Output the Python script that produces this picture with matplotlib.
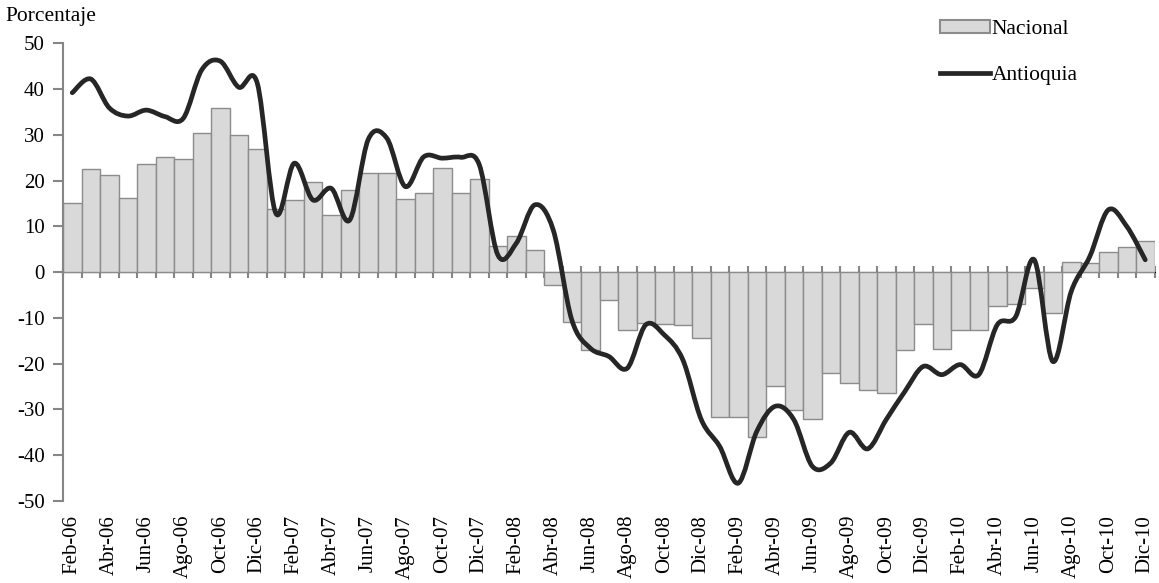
import numpy as np
import matplotlib
matplotlib.use("Agg")
import matplotlib.pyplot as plt
from matplotlib.path import Path
from matplotlib.patches import PathPatch
from matplotlib.lines import Line2D
from matplotlib.patches import Patch

# --- Data (monthly, Feb-06 .. Dic-10) ---
meses = ["Ene", "Feb", "Mar", "Abr", "May", "Jun", "Jul", "Ago", "Sep", "Oct", "Nov", "Dic"]
etiquetas = [f"{meses[(m - 1) % 12]}-{6 + (m - 1) // 12:02d}" for m in range(2, 61)]

nacional = [
    15.1, 22.5, 21.3, 16.1, 23.6, 25.1, 24.8, 30.3, 35.9, 30.0, 26.8,
    13.9, 15.8, 19.7, 12.5, 18.0, 21.7, 21.6, 15.9, 17.2, 22.7, 17.2, 20.3,
    5.8, 7.8, 4.8, -2.9, -11.0, -17.1, -6.0, -12.7, -11.1, -11.3, -11.6, -14.3,
    -31.7, -31.7, -36.0, -24.9, -30.1, -32.0, -22.0, -24.2, -25.7, -26.3, -17.0, -11.3,
    -16.8, -12.6, -12.7, -7.3, -6.9, -3.5, -8.9, 2.3, 1.9, 4.3, 5.6, 6.9,
]

antioquia = [
    39.2, 42.2, 35.9, 34.1, 35.4, 34.0, 33.6, 44.2, 46.1, 40.4, 41.3,
    12.9, 23.8, 15.8, 18.3, 11.4, 29.0, 29.3, 18.7, 25.2, 24.9, 25.1, 23.5,
    3.8, 6.3, 14.7, 9.2, -10.4, -16.6, -18.4, -21.0, -11.5, -13.7, -19.1, -32.2,
    -38.1, -46.1, -34.8, -29.3, -32.2, -42.4, -41.7, -35.0, -38.6, -32.2, -26.1, -20.6,
    -22.4, -20.2, -22.4, -11.5, -9.7, 2.7, -19.5, -4.2, 3.4, 13.6, 10.0, 2.7,
]

plt.rcParams["font.family"] = ["Liberation Serif", "DejaVu Serif"]
plt.rcParams["axes.unicode_minus"] = False

x = np.arange(len(nacional))

fig = plt.figure(figsize=(11.59, 5.83), dpi=100)
ax = fig.add_axes([63 / 1159, 1 - 501 / 583, (1154.5 - 63) / 1159, (501 - 43.3) / 583])

# --- Bars ---
ax.bar(x, nacional, width=1.0, color="#d9d9d9", edgecolor="#8c8c8c", linewidth=1.0, zorder=2)

# --- Smoothed line (Catmull-Rom bezier through the monthly points) ---
pts = np.column_stack([x, antioquia]).astype(float)
verts = [tuple(pts[0])]
codes = [Path.MOVETO]
n = len(pts)
for i in range(n - 1):
    p0 = pts[max(i - 1, 0)]
    p1 = pts[i]
    p2 = pts[i + 1]
    p3 = pts[min(i + 2, n - 1)]
    c1 = p1 + (p2 - p0) / 6.0
    c2 = p2 - (p3 - p1) / 6.0
    verts += [tuple(c1), tuple(c2), tuple(p2)]
    codes += [Path.CURVE4] * 3
ax.add_patch(PathPatch(Path(verts, codes), facecolor="none", edgecolor="#262626",
                       linewidth=3.4, capstyle="round", joinstyle="round", zorder=4))

# --- Axes ---
ax.set_xlim(-0.5, len(x) - 0.5)
ax.set_ylim(-50, 50)
ax.set_yticks(np.arange(-50, 51, 10))
for s in ["top", "right", "bottom"]:
    ax.spines[s].set_visible(False)
ax.spines["left"].set_color("#868686")
ax.spines["left"].set_linewidth(1.5)
ax.tick_params(axis="y", direction="out", length=7, width=1.5, color="#868686",
               labelsize=15, pad=6)

ax.set_xticks(x[::2])
ax.set_xticklabels(etiquetas[::2], rotation=90, fontsize=15)
ax.tick_params(axis="x", length=0, pad=10)

# zero line with category-boundary ticks
sec = ax.secondary_xaxis(0.5)
sec.set_xticks(np.arange(-0.5, len(x), 1.0))
sec.set_xticklabels([])
sec.tick_params(direction="inout", length=9, width=1.5, color="#868686")
sec.spines["bottom"].set_color("#868686")
sec.spines["bottom"].set_linewidth(1.5)

# --- Legend ---
handles = [
    Patch(facecolor="#d9d9d9", edgecolor="#8c8c8c", linewidth=1.5),
    Line2D([0], [0], color="#262626", linewidth=3.4),
]
fig.legend(handles, ["Nacional", "Antioquia"], loc="upper left",
           bbox_to_anchor=(940 / 1159, 1 - 20 / 583), frameon=False,
           fontsize=15.5, handlelength=2.3, handleheight=0.55, handletextpad=0.1,
           labelspacing=1.25, borderpad=0, borderaxespad=0)

fig.text(5 / 1159, 1 - 17 / 583, "Porcentaje", fontsize=15.5, va="center", ha="left")

fig.savefig("out.png", dpi=100)
